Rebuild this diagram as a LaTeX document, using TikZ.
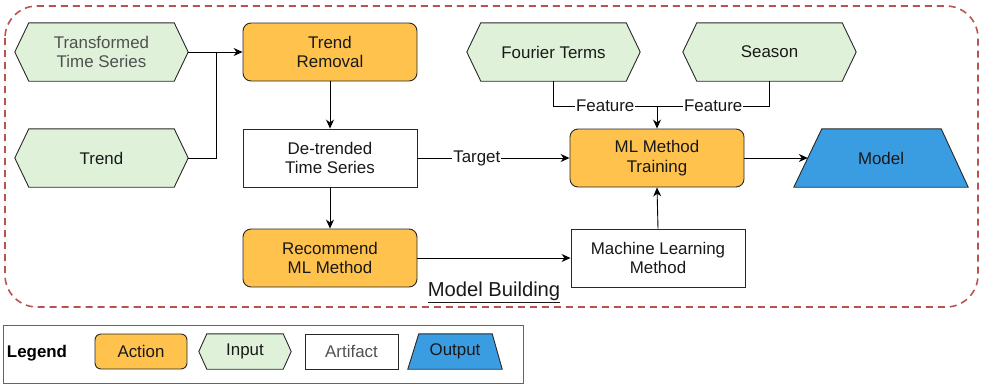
\documentclass[tikz,border=0pt]{standalone}
\usepackage{fontspec}
\setmainfont{Liberation Sans}
\usetikzlibrary{arrows.meta,backgrounds,calc}
\definecolor{actfill}{RGB}{255,194,77}
\definecolor{infill}{RGB}{223,242,217}
\definecolor{outfill}{RGB}{58,157,226}
\definecolor{dashred}{RGB}{184,84,80}
\definecolor{strokec}{RGB}{40,40,40}
\definecolor{graytext}{RGB}{80,80,80}
\definecolor{legendc}{RGB}{100,100,100}
\newcommand\drawhex[3]{\draw[#3] (#1.west) -- ([xshift=#2]#1.north west) -- ([xshift=-#2]#1.north east) -- (#1.east) -- ([xshift=-#2]#1.south east) -- ([xshift=#2]#1.south west) -- cycle;}
\newcommand\drawtrap[4]{\draw[#4] (#1.south west) -- ([xshift=#2]#1.north west) -- ([xshift=-#3]#1.north east) -- (#1.south east) -- cycle;}
\begin{document}
\begin{tikzpicture}[x=1pt,y=-1pt,font=\fontsize{16.9}{19.5}\selectfont,
  base/.style={minimum height=58pt, minimum width=174pt, align=center, inner sep=0pt, text=black!90},
  small/.style={minimum height=35pt, minimum width=92pt},
  action/.style={base, draw=strokec, fill=actfill, rounded corners=8pt, line width=0.9pt},
  artifact/.style={base, draw=strokec, fill=white, line width=0.9pt},
  inputn/.style={base},
  hexshape/.style={draw=strokec, fill=infill, line width=0.9pt},
  outshape/.style={draw=strokec, fill=outfill, line width=0.9pt},
  conn/.style={line width=0.9pt, draw=black},
  arr/.style={conn, -{Stealth[length=9pt,width=8pt]}},
  lbl/.style={fill=white, inner sep=1pt, text=black!90}]
\useasboundingbox (0,0) rectangle (981,386);
% container
\draw[dashred, line width=1.6pt, dash pattern=on 7pt off 5pt, rounded corners=32pt] (5,6) rectangle (978,307);
% nodes
\node[inputn, minimum width=173pt, text=graytext] (tts) at (101.5,52) {Transformed\\Time Series};
\node[inputn, minimum width=173pt] (trend) at (101.5,158) {Trend};
\node[action] (trem) at (330,52) {Trend\\Removal};
\node[artifact] (detr) at (330,158) {De-trended\\Time Series};
\node[action] (rec) at (330,258) {Recommend\\ML Method};
\node[artifact] (mlm) at (658,258) {Machine Learning\\Method};
\node[action] (mlt) at (657,158) {ML Method\\Training};
\node[inputn, minimum width=173pt] (four) at (553.5,52) {Fourier Terms};
\node[inputn, minimum width=173pt] (seas) at (769.5,52) {Season};
\node[inputn] (model) at (881,158) {Model};
\node[font=\fontsize{20.2}{23}\selectfont, text=black!90] (title) at (494,292) {\underline{Model Building}};
% legend
\node[draw=legendc, line width=0.9pt, minimum width=520pt, minimum height=58pt, inner sep=0pt] (legend) at (263,354) {};
\node[font=\fontsize{16.9}{19.5}\selectfont\bfseries] (legtxt) at (37,353) {Legend};
\node[action, small, rounded corners=6pt] (lact) at (141,351.5) {Action};
\node[inputn, small] (linp) at (245,351.5) {Input};
\node[artifact, small, minimum width=93pt, text=graytext] (lart) at (351.5,351.5) {Artifact};
\node[inputn, small, minimum width=94pt] (lout) at (455,351.5) {Output};
\begin{scope}[on background layer]
\drawhex{tts}{14}{hexshape}
\drawhex{trend}{14}{hexshape}
\drawhex{four}{14}{hexshape}
\drawhex{seas}{14}{hexshape}
\drawhex{linp}{8}{hexshape}
\drawtrap{model}{28}{27}{outshape}
\drawtrap{lout}{11}{10}{outshape}
\end{scope}
% connectors
\coordinate (j1) at (216,52);
\coordinate (fj) at (657,106);
\draw[arr] (tts.east) -- (trem.west);
\draw[conn] (trend.east) -| (j1);
\draw[arr] (trem.south) -- (detr.north);
\draw[arr] (detr.south) -- (rec.north);
\draw[arr] (detr.east) -- node[lbl, pos=0.39] {Target} (mlt.west);
\draw[arr] (rec.east) -- (mlm.west);
\draw[arr] (mlm.north) -- (mlt.south);
\draw[arr] (mlt.east) -- ([xshift=14pt]model.west);
\draw[conn] (four.south) |- node[lbl, pos=0.75] {Feature} (fj);
\draw[conn] (seas.south) |- node[lbl, pos=0.75] {Feature} (fj);
\draw[arr] (fj) -- (mlt.north);
\end{tikzpicture}
\end{document}
